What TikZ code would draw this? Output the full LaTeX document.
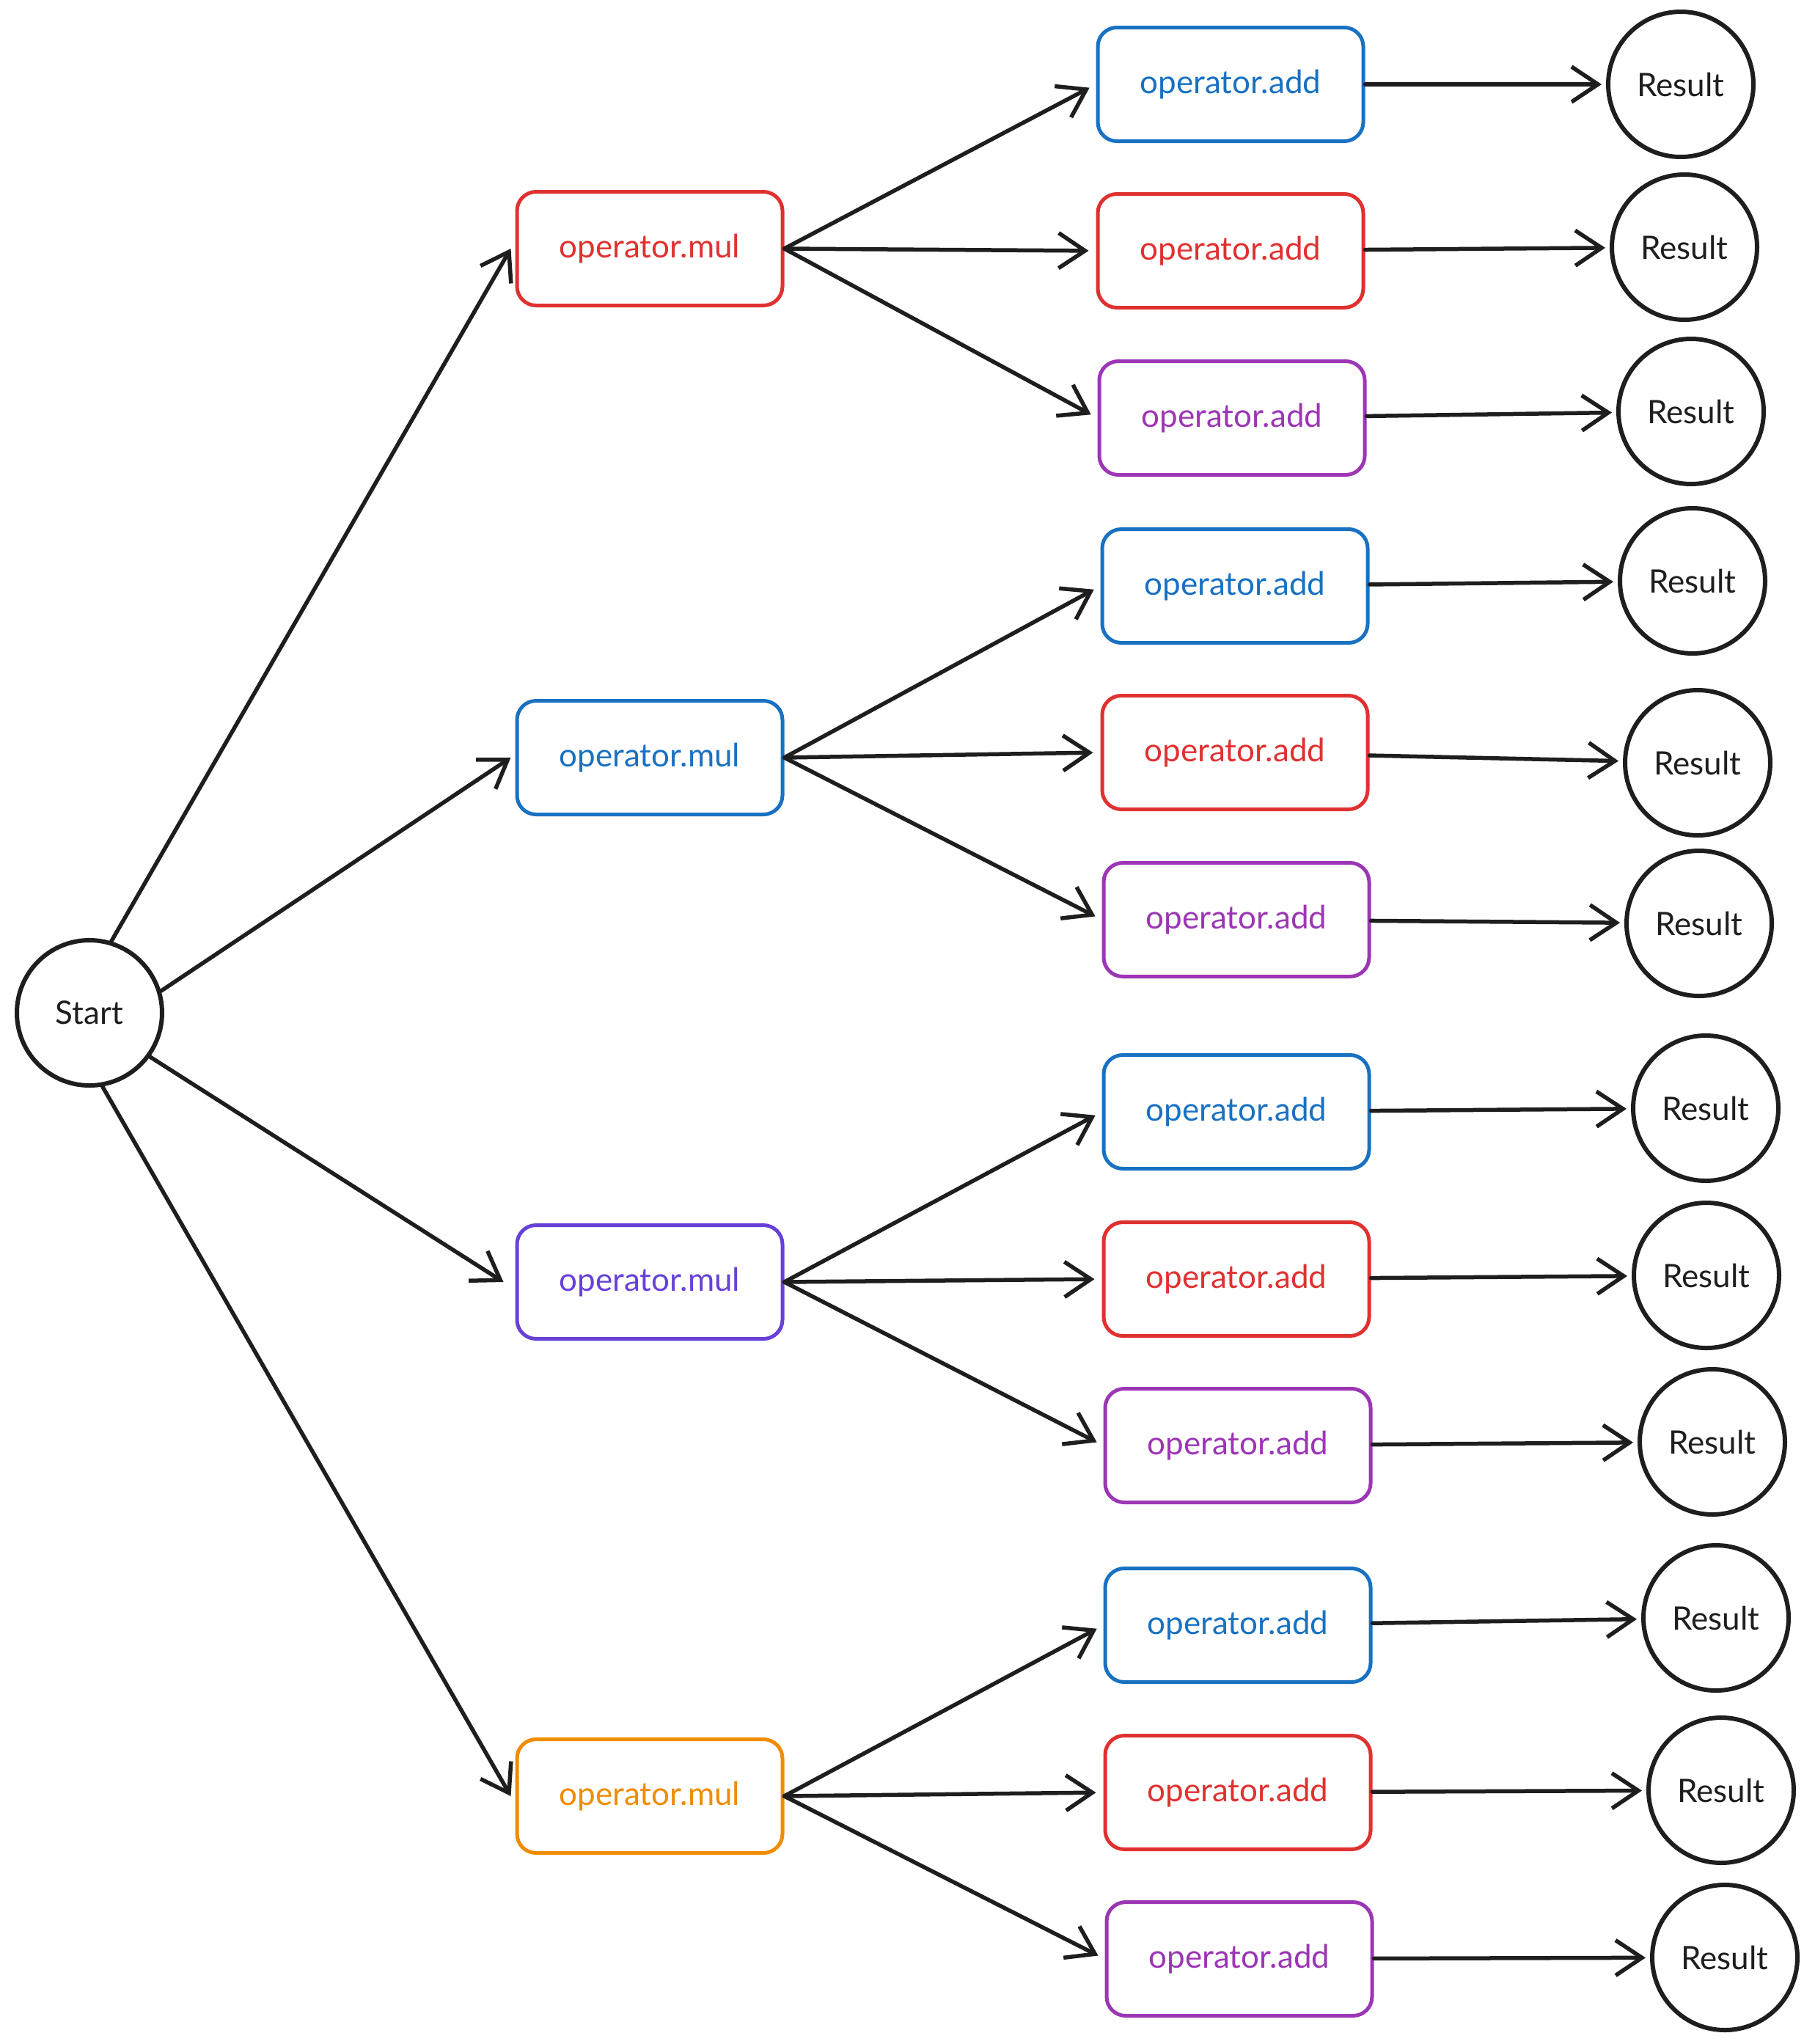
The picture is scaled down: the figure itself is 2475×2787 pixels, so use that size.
\documentclass[tikz,border=0pt]{standalone}
\usepackage{fontspec}
\setmainfont{Lato}
\usetikzlibrary{arrows.meta}
\definecolor{ink}{HTML}{1E1E1E}
\definecolor{xred}{HTML}{E03131}
\definecolor{xblue}{HTML}{1971C2}
\definecolor{xpurple}{HTML}{9C36B5}
\definecolor{xviolet}{HTML}{6741D9}
\definecolor{xorange}{HTML}{F08C00}
\tikzset{
  opbox/.style={draw, rounded corners=26pt, line width=5pt, minimum width=362pt, minimum height=155pt, inner sep=0pt, font=\fontsize{44}{52}\selectfont},
  rescirc/.style={circle, draw=ink, text=ink, line width=6pt, minimum size=198pt, inner sep=0pt, font=\fontsize{44}{52}\selectfont},
  arr/.style={draw=ink, line width=5.5pt, line cap=round, -{Straight Barb[length=36pt,width=48pt,line width=5.5pt]}},
}
\begin{document}
\begin{tikzpicture}[x=1pt,y=-1pt]
\useasboundingbox[fill=white] (0,0) rectangle (2475,2787);
% start
\node[rescirc] (start) at (122,1381) {Start};
% multiply nodes
\node[opbox, xred]    (m1) at (886,339)  {operator.mul};
\node[opbox, xblue]   (m2) at (886,1033) {operator.mul};
\node[opbox, xviolet] (m3) at (886,1748) {operator.mul};
\node[opbox, xorange] (m4) at (886,2449) {operator.mul};
% add nodes
\node[opbox, xblue]   (a1)  at (1678,115)  {operator.add};
\node[opbox, xred]    (a2)  at (1678,342)  {operator.add};
\node[opbox, xpurple] (a3)  at (1680,570)  {operator.add};
\node[opbox, xblue]   (a4)  at (1684,799)  {operator.add};
\node[opbox, xred]    (a5)  at (1684,1026) {operator.add};
\node[opbox, xpurple] (a6)  at (1686,1254) {operator.add};
\node[opbox, xblue]   (a7)  at (1686,1516) {operator.add};
\node[opbox, xred]    (a8)  at (1686,1744) {operator.add};
\node[opbox, xpurple] (a9)  at (1688,1971) {operator.add};
\node[opbox, xblue]   (a10) at (1688,2216) {operator.add};
\node[opbox, xred]    (a11) at (1688,2444) {operator.add};
\node[opbox, xpurple] (a12) at (1690,2671) {operator.add};
% results
\node[rescirc] (r1)  at (2292,115)  {Result};
\node[rescirc] (r2)  at (2297,337)  {Result};
\node[rescirc] (r3)  at (2306,561)  {Result};
\node[rescirc] (r4)  at (2308,792)  {Result};
\node[rescirc] (r5)  at (2315,1040) {Result};
\node[rescirc] (r6)  at (2317,1259) {Result};
\node[rescirc] (r7)  at (2326,1511) {Result};
\node[rescirc] (r8)  at (2327,1739) {Result};
\node[rescirc] (r9)  at (2335,1966) {Result};
\node[rescirc] (r10) at (2340,2206) {Result};
\node[rescirc] (r11) at (2347,2441) {Result};
\node[rescirc] (r12) at (2352,2669) {Result};
% start -> mul
\draw[arr] (start.73)  -- ([xshift=-6pt]m1.west);
\draw[arr] (start.17)  -- ([xshift=-6pt]m2.west);
\draw[arr] (start.-36) -- ([xshift=-16pt]m3.west);
\draw[arr] (start.-80) -- ([xshift=-6pt]m4.west);
% mul -> add
\foreach \m/\a in {m1/a1,m1/a2,m1/a3,m2/a4,m2/a5,m2/a6,m3/a7,m3/a8,m3/a9,m4/a10,m4/a11,m4/a12}{
  \draw[arr, shorten >=10pt] (\m.east) -- (\a.west);
}
% add -> result
\foreach \a/\r in {a1/r1,a2/r2,a3/r3,a4/r4,a5/r5,a6/r6,a7/r7,a8/r8,a9/r9,a10/r10,a11/r11,a12/r12}{
  \draw[arr, shorten >=6pt] (\a) -- (\r);
}
\end{tikzpicture}
\end{document}
